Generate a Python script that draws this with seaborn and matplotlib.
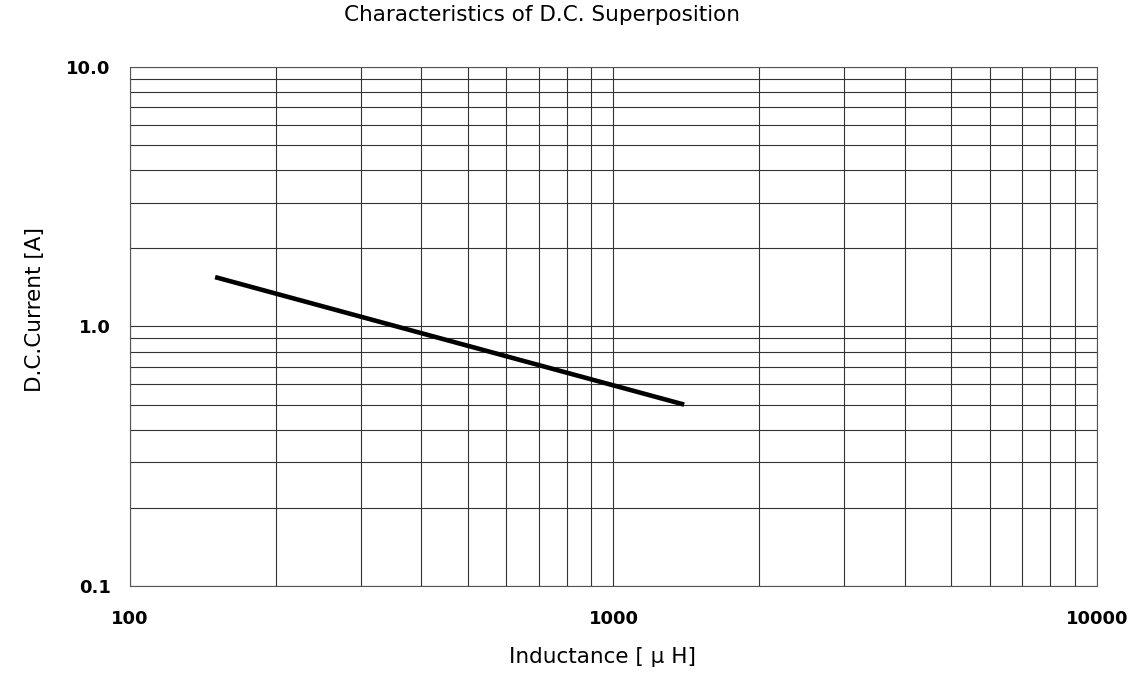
import numpy as np
import pandas as pd
import matplotlib
matplotlib.use("Agg")
import matplotlib.pyplot as plt
import seaborn as sns
from matplotlib.ticker import FixedLocator, NullFormatter, LogLocator

# 曲線資料
inductance = [150, 1400]      # μH
current = [1.55, 0.50]        # A

x_ticks = [100, 1000, 10000]
x_labels = ["100", "1000", "10000"]
y_ticks = [0.1, 1.0, 10.0]
y_labels = ["0.1", "1.0", "10.0"]

df = pd.DataFrame({"Inductance": inductance, "Current": current})

sns.set_style("white")
plt.rcParams["font.family"] = ["DejaVu Sans"]
plt.rcParams["text.color"] = "black"
plt.rcParams["axes.labelcolor"] = "black"
plt.rcParams["xtick.color"] = "black"
plt.rcParams["ytick.color"] = "black"

fig = plt.figure(figsize=(11.34, 6.74), dpi=100)
ax = fig.add_axes([0.1146, 0.1306, 0.9674 - 0.1146, 0.9006 - 0.1306])

sns.lineplot(data=df, x="Inductance", y="Current", ax=ax,
             color="black", linewidth=3.3, solid_capstyle="butt")

ax.set_xscale("log")
ax.set_yscale("log")
ax.set_xlim(100, 10000)
ax.set_ylim(0.1, 10)

ax.xaxis.set_major_locator(FixedLocator(x_ticks))
ax.set_xticklabels(x_labels)
ax.yaxis.set_major_locator(FixedLocator(y_ticks))
ax.set_yticklabels(y_labels)
ax.xaxis.set_minor_locator(LogLocator(base=10, subs=np.arange(2, 10)))
ax.yaxis.set_minor_locator(LogLocator(base=10, subs=np.arange(2, 10)))
ax.xaxis.set_minor_formatter(NullFormatter())
ax.yaxis.set_minor_formatter(NullFormatter())

ax.grid(True, which="both", color="#333333", linewidth=0.8)
ax.tick_params(which="both", length=0)
ax.tick_params(axis="x", pad=17, labelsize=13)
ax.tick_params(axis="y", pad=14, labelsize=13)
for lab in ax.get_xticklabels() + ax.get_yticklabels():
    lab.set_fontweight("bold")

for s in ax.spines.values():
    s.set_color("#555555")
    s.set_linewidth(0.8)

ax.set_xlabel("Inductance [ μ H]", fontsize=15.5, va="top")
ax.xaxis.set_label_coords(0.489, -0.118)
ax.set_ylabel("D.C.Current [A]", fontsize=15.5)
ax.yaxis.set_label_coords(-0.088, 0.532)
fig.text(542 / 1134, 1 - 15 / 674, "Characteristics of D.C. Superposition",
         ha="center", va="center", fontsize=15.5)

fig.savefig("out.png", dpi=100)
